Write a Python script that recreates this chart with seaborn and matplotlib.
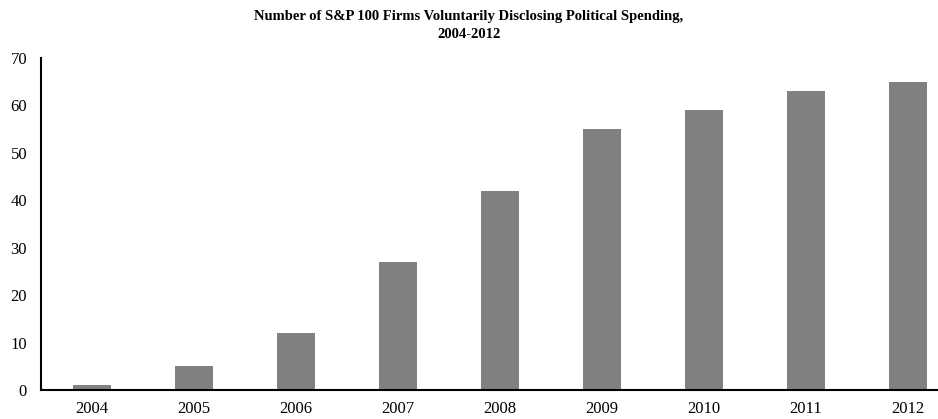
import pandas as pd
import seaborn as sns
import matplotlib.pyplot as plt

# data
years = ["2004", "2005", "2006", "2007", "2008", "2009", "2010", "2011", "2012"]
firms = [1, 5, 12, 27, 42, 55, 59, 63, 65]
y_ticks = [0, 10, 20, 30, 40, 50, 60, 70]

df = pd.DataFrame({"year": years, "firms": firms})

sns.set_theme(style="white")
plt.rcParams["font.family"] = ["Liberation Serif", "DejaVu Serif"]

fig = plt.figure(figsize=(9.38, 4.19), dpi=100)
ax = fig.add_axes([41 / 938, 1 - 390 / 419, 1 - 41 / 938, (390 - 58) / 419])

sns.barplot(data=df, x="year", y="firms", color="#808080", saturation=1,
            width=0.37, ax=ax, edgecolor="none")

ax.set_ylim(0, 70)
ax.set_yticks(y_ticks)
ax.set_xlim(-0.5, (938 - 41) / 102 - 0.5)
ax.set_xlabel("")
ax.set_ylabel("")
ax.tick_params(axis="both", length=0, labelsize=12, colors="black")
ax.tick_params(axis="x", pad=8)
ax.tick_params(axis="y", pad=10)

sns.despine(ax=ax, top=True, right=True)
for s in ["left", "bottom"]:
    ax.spines[s].set_color("black")
    ax.spines[s].set_linewidth(1.5)

fig.text(0.5, 0.975, "Number of S&P 100 Firms Voluntarily Disclosing Political Spending,\n2004-2012",
         ha="center", va="top", fontsize=10.5, fontweight="bold", linespacing=1.5,
         color="black")

fig.savefig("out.png", dpi=100)
